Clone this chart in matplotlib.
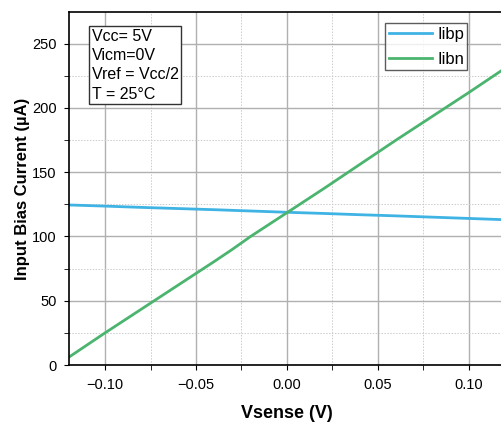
import matplotlib

matplotlib.use("Agg")
import matplotlib.pyplot as plt
from matplotlib.ticker import MultipleLocator

plt.rcParams["font.family"] = ["Liberation Sans", "DejaVu Sans"]

# 데이터
vsense = [-0.12, -0.10, -0.08, -0.06, -0.04, -0.03, -0.02, 0.00, 0.02, 0.04, 0.06, 0.08, 0.10, 0.12]
iibp = [124.5, 123.6, 122.6, 121.7, 120.8, 120.3, 119.8, 118.8, 117.9, 116.9, 116.0, 115.0, 114.0, 113.0]
iibn = [6, 25, 43.5, 62, 80.5, 90, 100, 118.5, 137, 156, 175, 193.5, 212, 231]

C_BLUE = "#3fb3e3"
C_GREEN = "#4bb46f"

fig = plt.figure(figsize=(5.02, 4.23), dpi=100)
ax = fig.add_axes([0.1367, 0.137, 0.870, 0.8345])

ax.plot(vsense, iibp, color=C_BLUE, lw=2, label="Iibp")
ax.plot(vsense, iibn, color=C_GREEN, lw=2, label="Iibn")

ax.set_xlim(-0.12, 0.12)
ax.set_ylim(0, 274.5)
ax.xaxis.set_major_locator(MultipleLocator(0.05))
ax.xaxis.set_minor_locator(MultipleLocator(0.025))
ax.yaxis.set_major_locator(MultipleLocator(50))
ax.yaxis.set_minor_locator(MultipleLocator(25))
ax.xaxis.set_major_formatter(lambda v, p: f"{v:.2f}".replace("-", "\u2212"))

ax.grid(which="major", color="#b0b0b0", lw=1.0)
ax.grid(which="minor", color="#cccccc", lw=0.7, ls=(0, (1.5, 1.5)))
ax.set_axisbelow(True)
for side in ("top", "left", "bottom"):
    ax.spines[side].set_linewidth(1.2)
ax.spines["right"].set_visible(False)
ax.tick_params(which="both", direction="out", labelsize=10.5, colors="black", length=3.5)
ax.tick_params(axis="x", which="major", pad=6)
ax.tick_params(axis="y", which="major", pad=5)

ax.set_xlabel("Vsense (V)", fontsize=13, fontweight="bold", labelpad=9)
ax.set_ylabel("Input Bias Current (\u00b5A)", fontsize=12, fontweight="bold", labelpad=1.5)

ax.text(0.0524, 0.953, "Vcc= 5V\nVicm=0V\nVref = Vcc/2\nT = 25\u00b0C",
        transform=ax.transAxes, fontsize=11.5, va="top", ha="left", linespacing=1.36,
        bbox=dict(boxstyle="square,pad=0.15", fc="white", ec="#333333", lw=1))

leg = ax.legend(loc="upper right", bbox_to_anchor=(0.9128, 0.968), fontsize=12,
                frameon=True, fancybox=False, edgecolor="#333333",
                handlelength=2.6, handletextpad=0.3, borderpad=0.2,
                labelspacing=0.6, borderaxespad=0)
leg.get_frame().set_linewidth(1)

fig.savefig("out.png", dpi=100)
